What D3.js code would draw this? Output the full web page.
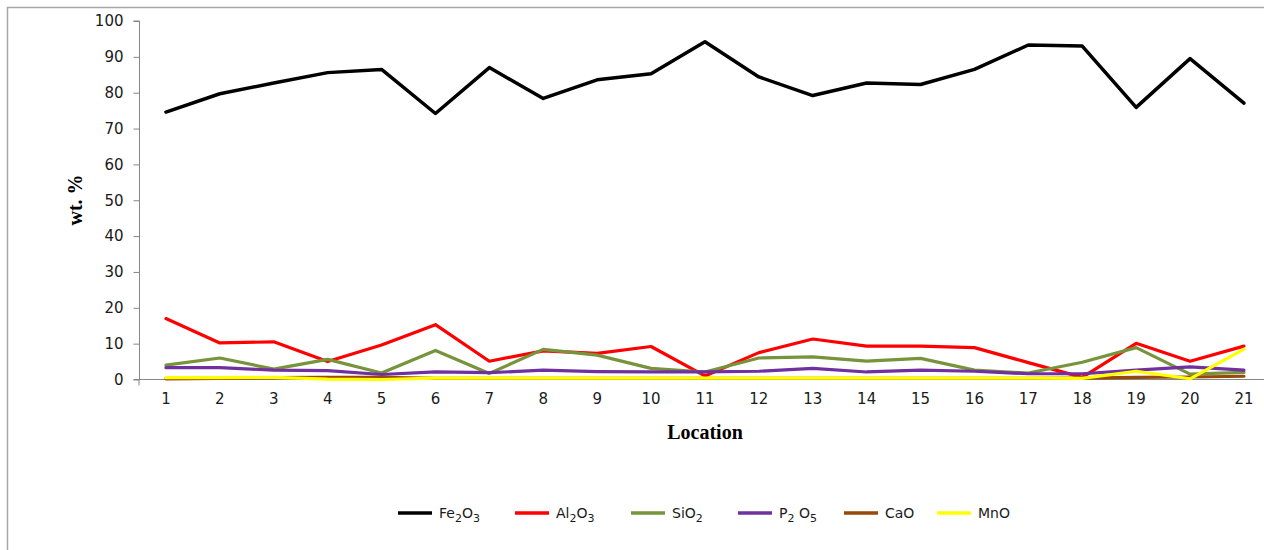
<!DOCTYPE html>
<html>
<head>
<meta charset="utf-8">
<script src="https://cdn.jsdelivr.net/npm/d3@7/dist/d3.min.js"></script>
<style>
  html, body { margin: 0; padding: 0; background: #fff; }
  svg { display: block; }
</style>
</head>
<body>
<svg id="chart" width="1264" height="550"></svg>
<script>
const locations = d3.range(1, 22).map(String);
const yTicks = [0, 10, 20, 30, 40, 50, 60, 70, 80, 90, 100];

const fe2o3 = [74.6, 79.7, 82.7, 85.6, 86.5, 74.2, 87.0, 78.4, 83.6, 85.3, 94.2, 84.4, 79.2, 82.7, 82.3, 86.5, 93.3, 93.0, 75.9, 89.5, 77.1];
const al2o3 = [17.0, 10.2, 10.5, 5.0, 9.6, 15.3, 5.1, 8.0, 7.3, 9.2, 1.0, 7.5, 11.3, 9.3, 9.3, 8.9, 4.7, 0.6, 10.1, 5.1, 9.3];
const sio2  = [4.0, 6.0, 2.9, 5.6, 1.8, 8.1, 1.7, 8.4, 6.8, 3.1, 2.1, 6.0, 6.3, 5.1, 5.9, 2.6, 1.8, 4.8, 8.9, 1.5, 2.0];
const p2o5  = [3.3, 3.3, 2.6, 2.5, 1.4, 2.1, 1.9, 2.6, 2.2, 2.1, 2.1, 2.3, 3.1, 2.1, 2.6, 2.3, 1.6, 1.6, 2.6, 3.5, 2.6];
const cao   = [0.2, 0.3, 0.5, 0.6, 0.6, 0.3, 0.3, 0.3, 0.3, 0.3, 0.3, 0.3, 0.3, 0.3, 0.3, 0.3, 0.3, 0.4, 0.6, 0.7, 0.9];
const mno   = [0.5, 0.5, 0.6, 0.1, 0.0, 0.4, 0.4, 0.4, 0.4, 0.4, 0.4, 0.4, 0.4, 0.4, 0.4, 0.4, 0.4, 0.3, 2.3, 0.2, 8.5];

const seriesNames = [["Fe", "2", "O", "3"], ["Al", "2", "O", "3"], ["SiO", "2"], ["P", "2", " O", "5"], ["CaO"], ["MnO"]];
const seriesValues = [fe2o3, al2o3, sio2, p2o5, cao, mno];
const seriesColors = ["#000000", "#ff0000", "#77933c", "#7030a0", "#984807", "#ffff00"];

const svg = d3.select("#chart");

// outer frame
svg.append("rect").attr("x", 7.5).attr("y", 7.5).attr("width", 1270).attr("height", 560)
  .attr("fill", "none").attr("stroke", "#a6a6a6").attr("stroke-width", 1.5);

const x = d3.scaleBand().domain(locations).range([139, 139 + 21 * 53.9]);
const y = d3.scaleLinear().domain([0, 100]).range([379.5, 21]);

// Y axis
const yAxis = svg.append("g").attr("transform", "translate(139.5,0)")
  .call(d3.axisLeft(y).tickValues(yTicks).tickSize(6).tickPadding(10));
yAxis.select(".domain").attr("stroke", "#868686").attr("d", `M-6,${y(100)}H0V${y(0)}H-6`);
yAxis.selectAll(".tick line").attr("stroke", "#868686");
yAxis.selectAll(".tick text").attr("font-family", "DejaVu Sans, Verdana, sans-serif")
  .attr("font-size", 15).attr("fill", "#1a1a1a");

// X axis
const xAxis = svg.append("g").attr("transform", `translate(0,${y(0)})`)
  .call(d3.axisBottom(x).tickSize(0).tickPadding(14));
xAxis.select(".domain").attr("stroke", "#868686").attr("d", `M139,6V0H1264`);
xAxis.selectAll(".tick text").attr("font-family", "DejaVu Sans, Verdana, sans-serif")
  .attr("font-size", 15).attr("fill", "#1a1a1a");

// Lines
const line = d3.line()
  .x((d, i) => x(locations[i]) + x.bandwidth() / 2)
  .y(d => y(d));

seriesValues.forEach((vals, k) => {
  svg.append("path").datum(vals)
    .attr("d", line)
    .attr("fill", "none")
    .attr("stroke", seriesColors[k])
    .attr("stroke-width", k === 0 ? 3.5 : 3.2)
    .attr("stroke-linejoin", "round")
    .attr("stroke-linecap", "round");
});

// Axis titles
svg.append("text").attr("x", 705).attr("y", 439).attr("text-anchor", "middle")
  .attr("font-family", "Liberation Serif, Times New Roman, serif").attr("font-weight", "bold")
  .attr("font-size", 20).attr("fill", "#000").text("Location");

svg.append("text").attr("transform", "translate(82,200) rotate(-90)").attr("text-anchor", "middle")
  .attr("font-family", "Liberation Serif, Times New Roman, serif").attr("font-weight", "bold")
  .attr("font-size", 20).attr("fill", "#000").text("wt. %");

// Legend
const legendX = [398, 515, 631, 738, 844, 937];
const legendY = 513;
seriesNames.forEach((parts, k) => {
  const g = svg.append("g");
  g.append("line").attr("x1", legendX[k]).attr("x2", legendX[k] + 34)
    .attr("y1", legendY).attr("y2", legendY)
    .attr("stroke", seriesColors[k]).attr("stroke-width", 3.5);
  const t = g.append("text").attr("x", legendX[k] + 41).attr("y", legendY + 5)
    .attr("font-family", "DejaVu Sans, Tahoma, sans-serif").attr("font-size", 14)
    .attr("fill", "#1a1a1a");
  parts.forEach((p, j) => {
    const isSub = /^\d$/.test(p);
    t.append("tspan").attr("dy", isSub ? 4 : (j > 0 ? -4 : 0))
      .attr("font-size", isSub ? 11 : 14).text(p);
  });
});
</script>
</body>
</html>
